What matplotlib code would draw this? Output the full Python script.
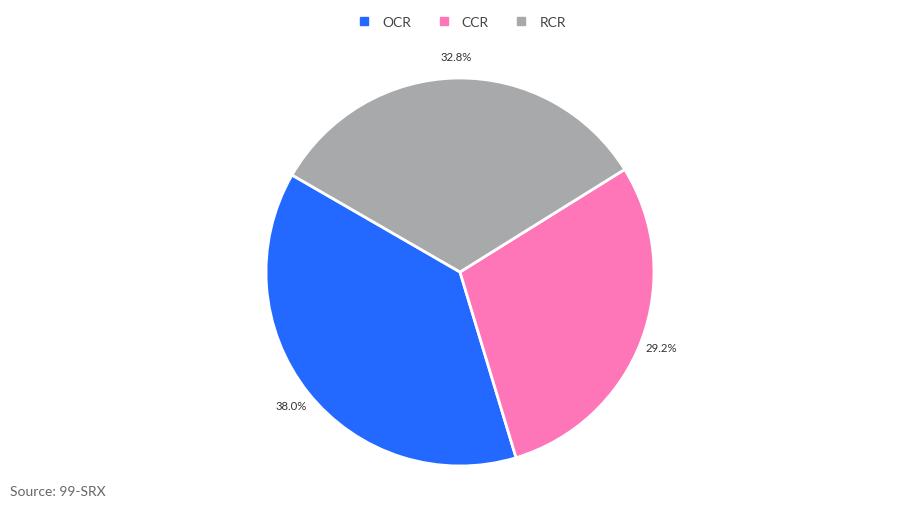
import matplotlib
matplotlib.use('Agg')
import matplotlib.pyplot as plt
from matplotlib.lines import Line2D

labels = ["OCR", "CCR", "RCR"]
shares = [38.0, 29.2, 32.8]
colors = ["#2369FF", "#FF76B8", "#A8A9AB"]

plt.rcParams['font.family'] = ['Lato', 'DejaVu Sans']

fig = plt.figure(figsize=(9.19, 5.10), dpi=100)
fig.patch.set_facecolor("white")

# pie centred at (460, 273) px, radius ~194 px
cx, cy, r = 460, 273, 194
W, H = 919, 510
ax = fig.add_axes([(cx - r) / W, (H - cy - r) / H, 2 * r / W, 2 * r / H])

wedges, texts, autotexts = ax.pie(
    shares, colors=colors, startangle=150.0, counterclock=True,
    autopct="%.1f%%", pctdistance=1.11, radius=1,
    wedgeprops=dict(edgecolor="white", linewidth=2),
    textprops=dict(fontsize=8.2, color="#333333"))
ax.set_xlim(-1, 1)
ax.set_ylim(-1, 1)
ax.set_aspect("equal")
ax.axis("off")

handles = [Line2D([0], [0], marker="s", linestyle="none", markersize=6,
                  markerfacecolor=c, markeredgecolor=c) for c in colors]
fig.legend(handles, labels, loc="center", bbox_to_anchor=(0.5, 1 - 23 / H),
           ncol=3, frameon=False, fontsize=10, handletextpad=0.5,
           handlelength=1.6, columnspacing=1.55, labelcolor="#444444")

fig.text(10 / W, 1 - 492 / H, "Source: 99-SRX", fontsize=10, color="#666666",
         va="center", ha="left")

fig.savefig("out.png", dpi=100, facecolor="white")
